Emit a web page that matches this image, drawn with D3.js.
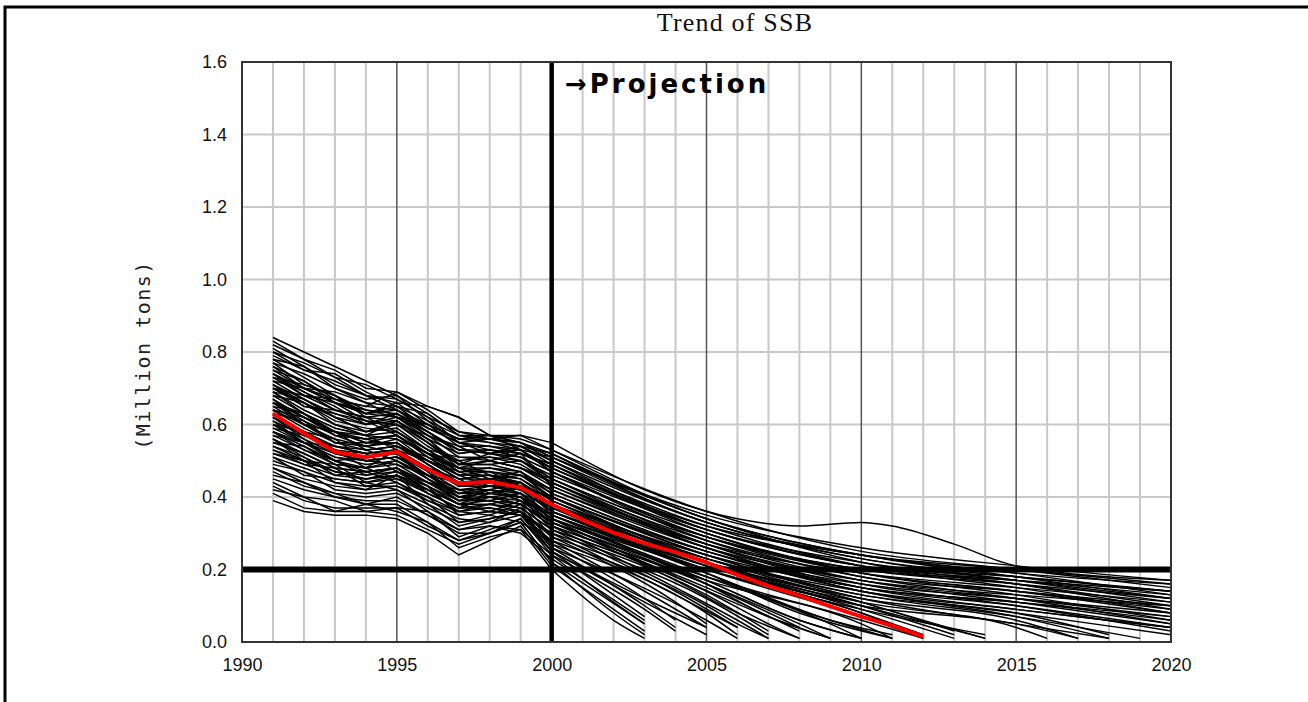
<!DOCTYPE html>
<html>
<head>
<meta charset="utf-8">
<script src="https://cdn.jsdelivr.net/npm/d3@7"></script>
<style>
  html, body { margin: 0; padding: 0; background: #fff; }
  svg { display: block; }
</style>
</head>
<body>
<script>
const width = 1308;
const height = 702;

// years shown on the axes
const xTicks = [1990, 1995, 2000, 2005, 2010, 2015, 2020];
const yTicks = [0, 0.2, 0.4, 0.6, 0.8, 1.0, 1.2, 1.4, 1.6];
const gridYears = d3.range(1990, 2021);

// past estimates, one row per run, 1991..2000
const histYears = d3.range(1991, 2001);
const hist = [
  [.84,.80,.76,.72,.68,.63,.57,.56,.57,.55],
  [.83,.78,.73,.71,.67,.62,.58,.57,.56,.53],
  [.82,.78,.75,.70,.69,.64,.58,.56,.54,.52],
  [.80,.77,.73,.68,.66,.60,.56,.55,.54,.50],
  [.79,.75,.72,.68,.64,.59,.55,.56,.55,.51],
  [.78,.73,.68,.64,.62,.57,.53,.53,.52,.49],
  [.72,.70,.67,.65,.69,.65,.62,.57,.55,.50],
  [.76,.72,.67,.63,.62,.58,.53,.52,.50,.46],
  [.75,.70,.66,.63,.64,.58,.52,.53,.51,.47],
  [.74,.69,.64,.62,.63,.57,.51,.51,.49,.44],
  [.73,.68,.64,.61,.60,.55,.50,.51,.50,.45],
  [.72,.67,.62,.60,.61,.55,.49,.50,.48,.43],
  [.71,.66,.62,.58,.60,.54,.49,.49,.47,.42],
  [.70,.66,.61,.59,.58,.53,.48,.48,.47,.41],
  [.69,.64,.60,.58,.59,.53,.47,.48,.46,.42],
  [.68,.63,.59,.57,.58,.52,.47,.47,.46,.40],
  [.67,.62,.58,.56,.57,.51,.46,.47,.45,.40],
  [.66,.61,.57,.56,.57,.51,.46,.46,.45,.39],
  [.66,.62,.58,.55,.55,.50,.45,.46,.44,.38],
  [.65,.60,.56,.54,.56,.50,.45,.45,.44,.38],
  [.64,.60,.55,.54,.55,.49,.44,.45,.43,.37],
  [.64,.59,.55,.53,.54,.49,.44,.44,.43,.37],
  [.63,.58,.54,.52,.53,.48,.43,.44,.42,.36],
  [.62,.57,.53,.52,.53,.48,.43,.43,.42,.36],
  [.61,.57,.53,.51,.52,.47,.42,.43,.41,.35],
  [.60,.56,.52,.50,.51,.46,.42,.42,.41,.35],
  [.60,.55,.51,.50,.51,.46,.41,.42,.40,.34],
  [.59,.55,.51,.49,.50,.45,.41,.41,.40,.34],
  [.58,.54,.50,.48,.50,.45,.40,.41,.40,.33],
  [.57,.53,.49,.48,.49,.44,.40,.40,.39,.33],
  [.56,.52,.48,.47,.48,.44,.39,.40,.38,.32],
  [.55,.52,.48,.47,.48,.43,.39,.39,.38,.32],
  [.54,.50,.47,.46,.47,.43,.38,.39,.37,.31],
  [.53,.50,.47,.45,.46,.42,.38,.38,.37,.31],
  [.52,.49,.46,.45,.46,.41,.37,.38,.36,.30],
  [.51,.48,.45,.44,.45,.41,.37,.37,.36,.29],
  [.50,.47,.44,.43,.44,.40,.36,.37,.35,.28],
  [.48,.45,.43,.42,.43,.39,.35,.36,.35,.27],
  [.47,.43,.41,.40,.41,.37,.33,.34,.36,.26],
  [.45,.42,.40,.39,.39,.35,.31,.33,.35,.25],
  [.43,.39,.37,.37,.37,.32,.28,.31,.34,.24],
  [.41,.37,.36,.36,.35,.31,.27,.30,.33,.22],
  [.39,.36,.35,.35,.34,.30,.24,.28,.32,.21],
  [.77,.74,.70,.66,.65,.61,.57,.55,.53,.48],
  [.81,.76,.71,.68,.67,.62,.55,.54,.53,.51],
  [.70,.68,.66,.63,.66,.65,.62,.57,.53,.47],
  [.69,.63,.57,.54,.52,.46,.41,.43,.44,.36],
  [.62,.56,.50,.47,.48,.43,.38,.41,.43,.33],
  [.58,.55,.52,.50,.49,.46,.44,.43,.42,.36],
  [.74,.70,.66,.64,.63,.59,.55,.53,.52,.48],
  [.56,.51,.47,.45,.47,.42,.36,.38,.40,.31],
  [.66,.63,.58,.55,.55,.49,.43,.45,.47,.39],
  [.71,.67,.63,.60,.62,.56,.52,.53,.51,.45],
  [.48,.44,.40,.38,.38,.33,.28,.30,.34,.25],
  [.75,.72,.66,.61,.60,.57,.54,.50,.48,.45],
  [.73,.71,.68,.62,.61,.56,.49,.52,.54,.49],
  [.70,.65,.63,.61,.57,.52,.50,.46,.43,.40],
  [.68,.66,.60,.57,.61,.55,.48,.50,.52,.43],
  [.67,.60,.58,.53,.54,.50,.47,.44,.41,.37],
  [.65,.63,.59,.57,.56,.52,.48,.47,.43,.40],
  [.63,.61,.55,.55,.57,.52,.46,.46,.44,.39],
  [.62,.58,.56,.50,.51,.48,.45,.41,.40,.34],
  [.61,.55,.54,.53,.50,.46,.40,.42,.39,.35],
  [.60,.58,.53,.48,.53,.47,.40,.39,.41,.34],
  [.59,.57,.54,.52,.47,.44,.42,.40,.38,.33],
  [.57,.55,.50,.46,.48,.41,.37,.40,.41,.32],
  [.56,.50,.49,.48,.45,.42,.38,.36,.35,.30],
  [.55,.54,.49,.44,.46,.43,.35,.36,.39,.29],
  [.54,.51,.46,.47,.44,.39,.36,.35,.33,.28],
  [.53,.49,.48,.43,.43,.40,.33,.35,.38,.27],
  [.52,.50,.44,.42,.46,.38,.34,.33,.37,.26],
  [.51,.46,.45,.44,.42,.38,.32,.34,.36,.25],
  [.49,.47,.42,.41,.42,.36,.31,.32,.31,.24],
  [.46,.44,.41,.38,.40,.35,.30,.30,.33,.22],
  [.44,.40,.39,.36,.37,.36,.29,.32,.30,.23],
  [.42,.40,.36,.38,.36,.33,.26,.29,.31,.20],
  [.80,.75,.74,.69,.65,.63,.57,.57,.55,.52],
  [.78,.76,.70,.67,.68,.61,.55,.52,.51,.47],
  [.76,.70,.69,.66,.62,.60,.54,.54,.52,.49],
  [.73,.69,.65,.60,.63,.58,.53,.52,.53,.47],
  [.71,.65,.64,.62,.58,.53,.51,.50,.48,.44],
  [.69,.67,.62,.58,.61,.56,.49,.49,.50,.44],
  [.64,.62,.57,.56,.54,.51,.48,.45,.46,.41],
  [.58,.53,.50,.51,.52,.45,.39,.42,.44,.35],
  [.66,.60,.58,.57,.53,.50,.46,.43,.42,.38],
  [.74,.68,.67,.65,.64,.60,.56,.56,.55,.51],
  [.77,.71,.68,.63,.65,.59,.56,.57,.57,.53]
];

// projection of the same runs after 2000, [year, value]
const proj = [
  [[2003,.42],[2006,.34],[2008,.32],[2010,.33],[2011,.32],[2013,.27],[2015,.21],[2020,.17]],
  [[2005,.36],[2010,.25],[2015,.20],[2020,.15]],
  [[2005,.34],[2010,.24],[2015,.19],[2020,.13]],
  [[2005,.33],[2010,.23],[2015,.17],[2020,.11]],
  [[2005,.34],[2010,.22],[2015,.16],[2020,.09]],
  [[2005,.32],[2010,.21],[2015,.15],[2020,.08]],
  [[2005,.31],[2010,.21],[2015,.17],[2020,.13]],
  [[2005,.30],[2010,.19],[2015,.13],[2020,.06]],
  [[2005,.31],[2010,.21],[2015,.18],[2020,.14]],
  [[2005,.28],[2010,.18],[2015,.12],[2020,.05]],
  [[2005,.29],[2010,.20],[2015,.16],[2020,.12]],
  [[2005,.27],[2010,.16],[2015,.10],[2020,.03]],
  [[2005,.26],[2010,.17],[2015,.13],[2020,.10]],
  [[2005,.25],[2010,.14],[2015,.08],[2020,.02]],
  [[2005,.27],[2010,.19],[2015,.15],[2020,.11]],
  [[2005,.24],[2010,.12],[2015,.05],[2018,.01]],
  [[2005,.25],[2010,.16],[2015,.12],[2020,.08]],
  [[2005,.23],[2010,.11],[2014,.01]],
  [[2005,.24],[2010,.15],[2015,.11],[2020,.07]],
  [[2005,.22],[2010,.10],[2013,.02]],
  [[2005,.23],[2010,.14],[2015,.09],[2020,.04]],
  [[2005,.21],[2010,.08],[2012,.02]],
  [[2005,.22],[2010,.12],[2015,.06],[2017,.01]],
  [[2005,.20],[2010,.07],[2012,.01]],
  [[2005,.21],[2010,.11],[2015,.04],[2016,.01]],
  [[2005,.19],[2009,.06],[2011,.01]],
  [[2005,.20],[2010,.09],[2014,.02]],
  [[2005,.18],[2009,.05],[2010,.01]],
  [[2005,.18],[2010,.06],[2012,.01]],
  [[2005,.17],[2008,.06],[2010,.01]],
  [[2005,.16],[2008,.05],[2009,.01]],
  [[2005,.17],[2010,.05],[2011,.01]],
  [[2005,.15],[2008,.03]],
  [[2005,.14],[2007,.05],[2008,.01]],
  [[2005,.13],[2007,.03]],
  [[2005,.12],[2007,.02]],
  [[2005,.10],[2006,.05],[2007,.01]],
  [[2005,.08],[2006,.02]],
  [[2005,.06],[2006,.01]],
  [[2003,.12],[2005,.04]],
  [[2003,.09],[2004,.03]],
  [[2003,.05]],
  [[2002,.09],[2003,.03]],
  [[2005,.32],[2010,.24],[2015,.19],[2020,.16]],
  [[2005,.35],[2010,.26],[2015,.21],[2020,.17]],
  [[2005,.29],[2010,.18],[2015,.14],[2020,.10]],
  [[2005,.19],[2009,.06],[2011,.02]],
  [[2005,.16],[2008,.04]],
  [[2005,.21],[2010,.10],[2015,.05],[2017,.01]],
  [[2005,.31],[2010,.22],[2015,.17],[2020,.12]],
  [[2004,.14],[2006,.04]],
  [[2005,.23],[2010,.13],[2015,.07],[2019,.01]],
  [[2005,.29],[2010,.20],[2015,.17],[2020,.14]],
  [[2003,.11],[2005,.02]],
  [[2005,.27],[2010,.15],[2015,.09],[2020,.04]],
  [[2005,.30],[2010,.19],[2015,.14],[2020,.09]],
  [[2005,.22],[2010,.09],[2013,.01]],
  [[2005,.26],[2010,.15],[2015,.11],[2020,.06]],
  [[2005,.19],[2008,.08],[2011,.01]],
  [[2005,.24],[2010,.13],[2015,.08],[2018,.02]],
  [[2005,.22],[2010,.11],[2013,.03]],
  [[2004,.18],[2007,.07],[2009,.01]],
  [[2005,.17],[2008,.06],[2010,.01]],
  [[2005,.16],[2007,.07],[2009,.01]],
  [[2004,.17],[2006,.08],[2008,.01]],
  [[2004,.15],[2006,.06],[2007,.01]],
  [[2004,.13],[2006,.04]],
  [[2004,.11],[2005,.05]],
  [[2003,.14],[2005,.04]],
  [[2003,.12],[2004,.06]],
  [[2003,.10],[2004,.04]],
  [[2003,.07]],
  [[2002,.11],[2003,.05]],
  [[2002,.08],[2003,.02]],
  [[2003,.06]],
  [[2002,.06],[2003,.01]],
  [[2005,.33],[2010,.24],[2015,.20],[2020,.16]],
  [[2005,.29],[2010,.19],[2015,.14],[2020,.08]],
  [[2005,.31],[2010,.21],[2015,.16],[2020,.10]],
  [[2005,.28],[2010,.17],[2015,.11],[2020,.05]],
  [[2005,.26],[2010,.14],[2015,.07],[2018,.01]],
  [[2005,.27],[2010,.17],[2015,.12],[2020,.07]],
  [[2005,.25],[2010,.15],[2015,.10],[2020,.04]],
  [[2005,.20],[2010,.08],[2012,.01]],
  [[2005,.21],[2010,.10],[2014,.01]],
  [[2005,.33],[2010,.23],[2015,.18],[2020,.14]],
  [[2005,.34],[2010,.24],[2015,.18],[2020,.12]]
];

// average of the runs (red)
const meanYears = d3.range(1991, 2013);
const meanValues = [.63,.576,.525,.51,.525,.476,.437,.442,.426,.38,.337,.302,.272,.248,.22,.185,.155,.128,.098,.07,.045,.015];

const limitValue = 0.2;   // thick horizontal reference
const projStart = 2000;   // thick vertical reference

const x = d3.scaleLinear().domain([1990, 2020]).range([242, 1171]);
const y = d3.scaleLinear().domain([0, 1.6]).range([642, 62]);

const svg = d3.select("body").append("svg")
    .attr("width", width)
    .attr("height", height);

// outer frame (top and left only are visible)
svg.append("path")
    .attr("d", "M5,702 V7 H1308")
    .attr("fill", "none")
    .attr("stroke", "#000")
    .attr("stroke-width", 3);

const plot = svg.append("g");

// grid
plot.selectAll(".vgrid").data(gridYears.filter(d => d % 5 !== 0))
  .enter().append("line")
    .attr("x1", d => x(d)).attr("x2", d => x(d))
    .attr("y1", y(1.6)).attr("y2", y(0))
    .attr("stroke", "#c8c8c8").attr("stroke-width", 2);

plot.selectAll(".hgrid").data(yTicks)
  .enter().append("line")
    .attr("x1", x(1990)).attr("x2", x(2020))
    .attr("y1", d => y(d)).attr("y2", d => y(d))
    .attr("stroke", "#c8c8c8").attr("stroke-width", 2);

plot.selectAll(".vmajor").data(xTicks)
  .enter().append("line")
    .attr("x1", d => x(d)).attr("x2", d => x(d))
    .attr("y1", y(1.6)).attr("y2", y(0))
    .attr("stroke", "#555").attr("stroke-width", 1.5);

// reference lines
plot.append("line")
    .attr("x1", x(1990)).attr("x2", x(2020))
    .attr("y1", y(limitValue)).attr("y2", y(limitValue))
    .attr("stroke", "#000").attr("stroke-width", 6);

plot.append("line")
    .attr("x1", x(projStart)).attr("x2", x(projStart))
    .attr("y1", y(1.6)).attr("y2", y(0))
    .attr("stroke", "#000").attr("stroke-width", 4.5);

const lineLin = d3.line().x(d => x(d[0])).y(d => y(d[1]));
const lineSmooth = d3.line().x(d => x(d[0])).y(d => y(d[1])).curve(d3.curveMonotoneX);

const runs = hist.map((h, i) => {
  const past = h.map((v, j) => [histYears[j], v]);
  const future = [[projStart, h[h.length - 1]]].concat(proj[i]);
  return { past: past, future: future };
});

const runG = plot.append("g")
    .attr("fill", "none")
    .attr("stroke", "#000")
    .attr("stroke-width", 1.5);

runG.selectAll(".past").data(runs)
  .enter().append("path")
    .attr("d", d => lineLin(d.past));

runG.selectAll(".future").data(runs)
  .enter().append("path")
    .attr("d", d => lineSmooth(d.future));

// red mean
plot.append("path")
    .datum(meanYears.map((yr, i) => [yr, meanValues[i]]))
    .attr("d", lineLin)
    .attr("fill", "none")
    .attr("stroke", "#ff0000")
    .attr("stroke-width", 4)
    .attr("stroke-linejoin", "round");

// plot box
plot.append("rect")
    .attr("x", x(1990)).attr("y", y(1.6))
    .attr("width", x(2020) - x(1990))
    .attr("height", y(0) - y(1.6))
    .attr("fill", "none")
    .attr("stroke", "#333")
    .attr("stroke-width", 2);

// axes
const xAxis = svg.append("g")
    .attr("transform", "translate(0," + y(0) + ")")
    .call(d3.axisBottom(x).tickValues(xTicks).tickFormat(d3.format("d")).tickSize(0).tickPadding(16));

const yAxis = svg.append("g")
    .attr("transform", "translate(" + x(1990) + ",0)")
    .call(d3.axisLeft(y).tickValues(yTicks).tickFormat(d3.format(".1f")).tickSize(0).tickPadding(15));

[xAxis, yAxis].forEach(a => {
  a.select(".domain").remove();
  a.selectAll("text")
    .attr("fill", "#111")
    .style("font-family", "'Liberation Sans', Arial, sans-serif")
    .style("font-size", "18px");
});

// title
svg.append("text")
    .attr("x", 735).attr("y", 31)
    .attr("text-anchor", "middle")
    .style("font-family", "'Liberation Serif', 'Times New Roman', serif")
    .style("font-size", "26px")
    .style("letter-spacing", "1.2px")
    .attr("fill", "#111")
    .text("Trend of SSB");

svg.append("text")
    .attr("x", 565).attr("y", 93)
    .style("font-family", "'DejaVu Sans', sans-serif")
    .style("font-size", "26px")
    .style("font-weight", "bold")
    .style("letter-spacing", "3px")
    .attr("fill", "#000")
    .text("→Projection");

svg.append("text")
    .attr("transform", "translate(150,355) rotate(-90)")
    .attr("text-anchor", "middle")
    .style("font-family", "'DejaVu Sans Mono', monospace")
    .style("font-size", "20px")
    .style("letter-spacing", "1.5px")
    .attr("fill", "#222")
    .text("(Million tons)");
</script>
</body>
</html>
